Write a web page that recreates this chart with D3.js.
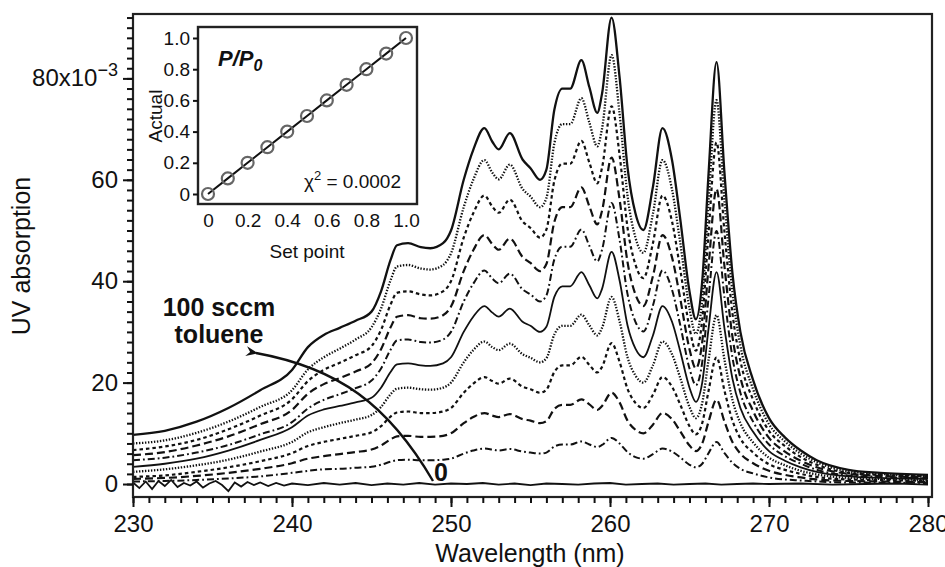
<!DOCTYPE html>
<html><head><meta charset="utf-8">
<script src="https://cdn.jsdelivr.net/npm/d3@7"></script>
<style>
body{margin:0;background:#fff;}
svg{display:block;font-family:"Liberation Sans",Arial,sans-serif;}
</style></head><body>
<svg id="c" width="945" height="567"></svg>
<script>
// ---------- data ----------
const wavelengths = [230,232,234,236,238,240,241,242,243,244,245,245.6,246.2,246.6,247.3,248.1,248.7,249.5,250,250.8,251.4,252.1,252.6,253.0,253.7,254.5,255.0,255.6,256.0,256.5,257.0,257.5,258.2,258.7,259.2,259.5,260.1,260.6,261.1,261.6,262.1,262.7,263.3,263.9,264.4,265.0,265.4,265.8,266.2,266.7,267.2,267.7,268.2,269,270,271,272,273,275,277,280];
const s100 = [9.7,10.5,12.3,15.0,18.5,22.5,27.0,29.4,30.8,32.2,34.0,38.0,44.2,47.1,47.5,46.7,46.5,47.5,50.0,60.0,65.9,70.2,67.5,66.0,69.2,64.0,62.3,60.0,62.0,73.8,78.0,78.0,83.6,78.3,73.2,77.0,92.0,80.3,62.5,53.4,50.1,58.6,70.2,63.9,52.7,38.0,32.5,40.0,61.3,83.2,61.3,41.6,30.0,20.5,13.0,9.2,6.6,4.7,2.8,2.2,1.8];
const s90 = [8.0,8.6,10.1,12.3,15.2,18.5,22.6,25.0,26.7,28.5,30.9,34.6,40.2,42.9,43.2,42.5,42.3,43.2,45.5,54.6,60.0,63.9,61.4,60.1,63.0,58.2,56.7,54.6,56.4,67.2,71.0,71.0,76.1,71.3,66.6,70.1,84.6,73.1,56.9,48.6,45.6,53.3,63.9,58.1,48.0,34.6,29.6,36.4,55.8,75.7,55.8,37.9,27.3,18.7,11.8,8.4,6.0,4.3,2.5,2.0,1.6];
const s80 = [6.7,7.4,8.7,10.8,13.5,16.7,20.3,22.5,23.9,25.4,27.2,30.4,35.4,37.7,38.0,37.4,37.2,38.0,40.0,48.6,53.4,56.9,54.7,53.5,56.1,51.8,50.5,48.6,50.2,59.8,63.2,63.2,67.7,63.4,59.3,62.4,74.5,65.0,50.6,43.3,40.6,47.5,56.9,51.8,42.7,30.8,26.3,32.4,49.7,67.4,49.7,33.7,24.3,16.6,10.5,7.5,5.3,3.8,2.2,1.8,1.5];
const s70 = [5.7,6.3,7.6,9.4,11.8,14.6,17.8,19.7,20.9,22.2,23.8,26.6,30.9,33.0,33.3,32.7,32.6,33.3,35.0,42.0,46.1,49.1,47.3,46.2,48.4,44.8,43.6,42.0,43.4,51.7,54.6,54.6,58.5,54.8,51.2,53.9,64.4,56.2,43.8,37.4,35.1,41.0,49.1,44.7,36.9,26.6,22.8,28.0,42.9,58.2,42.9,29.1,21.0,14.4,9.1,6.4,4.6,3.3,2.0,1.6,1.3];
const s60 = [4.7,5.2,6.2,7.7,9.8,12.2,14.9,16.6,17.7,18.9,20.4,22.8,26.5,28.3,28.5,28.0,27.9,28.5,30.0,36.0,39.5,42.1,40.5,39.6,41.5,38.4,37.4,36.0,37.2,44.3,46.8,46.8,50.2,47.0,43.9,46.2,55.4,48.2,37.5,32.0,30.1,35.2,42.1,38.3,31.6,22.8,19.5,24.0,36.8,49.9,36.8,25.0,18.0,12.3,7.8,5.5,4.0,2.8,1.7,1.4,1.1];
const s50 = [3.4,4.0,5.0,6.6,8.7,11.2,13.5,14.7,15.4,16.1,17.0,19.0,22.1,23.6,23.8,23.4,23.3,23.8,25.0,30.0,33.0,35.1,33.8,33.0,34.6,32.0,31.2,30.0,31.0,36.9,39.0,39.0,41.8,39.2,36.6,38.5,45.8,40.2,31.3,26.7,25.0,29.3,35.1,32.0,26.4,19.0,16.2,20.0,30.7,41.8,30.7,20.8,15.0,10.3,6.5,4.6,3.3,2.4,1.5,1.2,1.0];
const s40 = [2.4,2.9,3.7,4.8,6.4,8.3,10.2,11.2,12.0,12.7,13.6,15.2,17.7,18.8,19.0,18.7,18.6,19.0,20.0,24.0,26.4,28.1,27.0,26.4,27.7,25.6,24.9,24.0,24.8,29.5,31.2,31.2,33.4,31.3,29.3,30.8,36.9,32.1,25.0,21.4,20.0,23.4,28.1,25.6,21.1,15.2,13.0,16.0,24.5,33.3,24.5,16.6,12.0,8.2,5.2,3.7,2.6,1.9,1.2,1.0,0.8];
const s30 = [1.4,1.7,2.4,3.3,4.5,6.1,7.5,8.3,8.9,9.5,10.2,11.4,13.3,14.1,14.3,14.0,14.0,14.3,15.0,18.0,19.8,21.1,20.3,19.8,20.8,19.2,18.7,18.0,18.6,22.1,23.4,23.4,25.1,23.5,22.0,23.1,27.8,24.1,18.8,16.0,15.0,17.6,21.1,19.2,15.8,11.4,9.8,12.0,18.4,25.0,18.4,12.5,9.0,6.2,3.9,2.8,2.0,1.4,0.9,0.8,0.6];
const s20 = [1.0,1.2,1.6,2.2,3.0,4.1,5.0,5.5,5.9,6.3,6.8,7.6,8.8,9.4,9.5,9.3,9.3,9.5,10.0,12.0,13.2,14.0,13.5,13.2,13.8,12.8,12.5,12.0,12.4,14.8,15.6,15.6,16.7,15.7,14.6,15.4,18.0,16.1,12.5,10.7,10.0,11.7,14.0,12.8,10.5,7.6,6.5,8.0,12.3,16.6,12.3,8.3,6.0,4.1,2.6,1.8,1.3,0.9,0.6,0.5,0.4];
const s10 = [0.5,0.6,0.8,1.1,1.5,2.2,2.6,2.9,3.0,3.2,3.4,3.8,4.4,4.7,4.8,4.7,4.7,4.8,5.0,6.0,6.6,7.0,6.8,6.6,6.9,6.4,6.2,6.0,6.2,7.4,7.8,7.8,8.4,7.8,7.3,7.7,9.1,8.0,6.3,5.3,5.0,5.9,7.0,6.4,5.3,3.8,3.3,4.0,6.1,8.3,6.1,4.2,3.0,2.1,1.3,0.9,0.7,0.5,0.3,0.3,0.2];
const baseWavelengths = [230,230.4,230.8,231.2,231.6,232,232.4,232.8,233.2,233.6,234,234.4,234.8,235.2,235.6,236,236.4,236.8,237.2,237.6,238,238.5,239,239.5,240,241,242,243,244,245,246,247,248,249,250,251,252,253,254,255,256,257,258,259,260,261,262,263,264,265,266,267,268,269,270,272,274,276,278,280];
const s0 = [0.3,-0.8,0.5,-1.0,0.6,-0.4,0.8,-0.6,0.2,-0.3,0.5,-0.7,0.1,0.6,-0.2,-1.4,0.3,-0.5,0.4,-0.2,0.3,-0.4,0.2,-0.3,0.1,-0.2,0.2,-0.1,0.2,-0.2,0.1,-0.1,0.2,-0.1,0.1,0.0,0.2,-0.1,0.1,-0.2,0.1,0.0,-0.1,0.1,0.2,-0.1,0.0,0.1,-0.1,0.0,0.1,-0.1,0.0,0.1,0.0,0.1,-0.1,0.0,0.1,-0.1];

const xMajorTicks = [230,240,250,260,270,280];
const yMajorTicks = [0,20,40,60,80];

const insetSetPoint = [0,0.1,0.2,0.3,0.4,0.5,0.6,0.7,0.8,0.9,1.0];
const insetActual   = [0,0.1,0.2,0.3,0.4,0.5,0.6,0.7,0.8,0.9,1.0];
const insetTicks = [0,0.2,0.4,0.6,0.8,1.0];
const insetTickLabels = ["0","0.2","0.4","0.6","0.8","1.0"];

// ---------- chart ----------
const svg = d3.select("#c");
const x = d3.scaleLinear().domain([230,280]).range([133,928]);
const y = d3.scaleLinear().domain([-2.56,92.7]).range([497,14]);
const ink = "#111";

svg.append("defs").append("clipPath").attr("id","clip")
  .append("rect").attr("x",133).attr("y",14).attr("width",799).attr("height",483);

const styles = [
  {d:s100, w:2.3, dash:null},
  {d:s90,  w:2.3, dash:"1.4,1.6"},
  {d:s80,  w:2.2, dash:"3.5,3"},
  {d:s70,  w:2.2, dash:"8,4"},
  {d:s60,  w:2.0, dash:"7,3,1.8,3"},
  {d:s50,  w:1.8, dash:null},
  {d:s40,  w:2.3, dash:"1.4,1.6"},
  {d:s30,  w:2.2, dash:"3.5,3"},
  {d:s20,  w:2.2, dash:"8,4"},
  {d:s10,  w:2.0, dash:"7,3,1.8,3"}
];
const line = d3.line().x((d,i)=>x(wavelengths[i])).y(d=>y(d)).curve(d3.curveMonotoneX);
const gl = svg.append("g").attr("clip-path","url(#clip)");
styles.forEach(s=>{
  gl.append("path").attr("d",line(s.d)).attr("fill","none").attr("stroke",ink)
    .attr("stroke-width",s.w).attr("stroke-dasharray",s.dash).attr("stroke-linejoin","round");
});
const baseLine = d3.line().x((d,i)=>x(baseWavelengths[i])).y(d=>y(d));
gl.append("path").attr("d",baseLine(s0)).attr("fill","none").attr("stroke",ink).attr("stroke-width",1.8);

// frame
svg.append("rect").attr("x",133).attr("y",14).attr("width",799).attr("height",483)
  .attr("fill","none").attr("stroke","#222").attr("stroke-width",2.2);

// x axis
const gx = svg.append("g").attr("transform","translate(0,497)");
gx.append("g").call(d3.axisBottom(x).tickValues(d3.range(230,281,1)).tickSize(6).tickFormat(""));
gx.append("g").call(d3.axisBottom(x).tickValues(xMajorTicks).tickSize(10).tickPadding(8));
gx.selectAll(".domain").remove();
gx.selectAll("line").attr("stroke",ink).attr("stroke-width",2);
gx.selectAll("text").attr("font-size",24).attr("fill",ink).attr("font-family","Liberation Sans, Arial, sans-serif");

// y axis
const gy = svg.append("g").attr("transform","translate(133,0)");
gy.append("g").call(d3.axisLeft(y).tickValues(d3.range(0,93,2)).tickSize(6).tickFormat(""));
gy.append("g").call(d3.axisLeft(y).tickValues(yMajorTicks).tickSize(10).tickPadding(5).tickFormat(d=>d===80?"":d));
gy.selectAll(".domain").remove();
gy.selectAll("line").attr("stroke",ink).attr("stroke-width",2);
gy.selectAll("text").attr("font-size",24).attr("fill",ink).attr("font-family","Liberation Sans, Arial, sans-serif");
const t80 = svg.append("text").attr("x",118).attr("y",y(80)+8).attr("text-anchor","end")
  .attr("font-size",24).attr("fill",ink);
t80.append("tspan").text("80x10");
t80.append("tspan").attr("dy",-10).attr("font-size",18).text("\u22123");

// axis titles
svg.append("text").attr("x",530).attr("y",562).attr("text-anchor","middle")
  .attr("font-size",25).attr("fill",ink).text("Wavelength (nm)");
svg.append("text").attr("transform","translate(30,256) rotate(-90)").attr("text-anchor","middle")
  .attr("font-size",25).attr("fill",ink).text("UV absorption");

// annotation
svg.append("text").attr("x",219).attr("y",316).attr("text-anchor","middle")
  .attr("font-size",25).attr("font-weight","bold").attr("fill",ink).text("100 sccm");
svg.append("text").attr("x",219).attr("y",343).attr("text-anchor","middle")
  .attr("font-size",25).attr("font-weight","bold").attr("fill",ink).text("toluene");
svg.append("text").attr("x",441).attr("y",481).attr("text-anchor","middle")
  .attr("font-size",25).attr("font-weight","bold").attr("fill",ink).text("0");
svg.select("defs").append("marker").attr("id","arr").attr("viewBox","0 0 12 10")
  .attr("refX",2).attr("refY",5).attr("markerWidth",12).attr("markerHeight",10)
  .attr("markerUnits","userSpaceOnUse").attr("orient","auto")
  .append("path").attr("d","M12,0 L0,5 L12,10 L8,5 Z").attr("fill",ink);
const p = d3.path();
p.moveTo(433,481); p.bezierCurveTo(388,404,338,368,256,353);
svg.append("path").attr("d",p.toString()).attr("fill","none").attr("stroke",ink)
  .attr("stroke-width",2.4).attr("marker-end","url(#arr)");

// ---------- inset ----------
const ix = d3.scaleLinear().domain([0,1]).range([208,406]);
const iy = d3.scaleLinear().domain([0,1]).range([194,38]);
const gi = svg.append("g");
gi.append("rect").attr("x",198).attr("y",27).attr("width",219).attr("height",177)
  .attr("fill","#fff").attr("stroke","#222").attr("stroke-width",2.4);
gi.append("g").attr("transform","translate(198,0)")
  .call(d3.axisLeft(iy).tickValues(insetTicks).tickSize(5).tickPadding(3).tickFormat((d,i)=>insetTickLabels[i]));
gi.append("g").attr("transform","translate(0,204)")
  .call(d3.axisBottom(ix).tickValues(insetTicks).tickSize(0).tickPadding(10).tickFormat((d,i)=>insetTickLabels[i]));
gi.selectAll(".domain").remove();
gi.selectAll(".tick line").attr("stroke",ink).attr("stroke-width",2);
gi.selectAll(".tick text").attr("font-size",19).attr("fill",ink).attr("font-family","Liberation Sans, Arial, sans-serif");
const iline = d3.line().x((d,i)=>ix(insetSetPoint[i])).y(d=>iy(d));
gi.append("path").attr("d",iline(insetActual)).attr("fill","none").attr("stroke",ink).attr("stroke-width",2);
gi.selectAll("circle.m").data(insetActual).join("circle").attr("class","m")
  .attr("cx",(d,i)=>ix(insetSetPoint[i])).attr("cy",d=>iy(d)).attr("r",6)
  .attr("fill","none").attr("stroke","#666").attr("stroke-width",2.2);
gi.append("text").attr("x",307).attr("y",258).attr("text-anchor","middle")
  .attr("font-size",19).attr("fill",ink).text("Set point");
gi.append("text").attr("transform","translate(162,116) rotate(-90)").attr("text-anchor","middle")
  .attr("font-size",19).attr("fill",ink).text("Actual");
const pp = gi.append("text").attr("x",218).attr("y",66).attr("font-size",22)
  .attr("font-weight","bold").attr("font-style","italic").attr("fill",ink);
pp.append("tspan").text("P/P");
pp.append("tspan").attr("dy",5).attr("font-size",16).text("0");
const chi = gi.append("text").attr("x",401).attr("y",188).attr("text-anchor","end")
  .attr("font-size",19).attr("fill",ink);
chi.append("tspan").text("\u03C7");
chi.append("tspan").attr("dy",-8).attr("font-size",13).text("2");
chi.append("tspan").attr("dy",8).text(" = 0.0002");
</script>
</body></html>
